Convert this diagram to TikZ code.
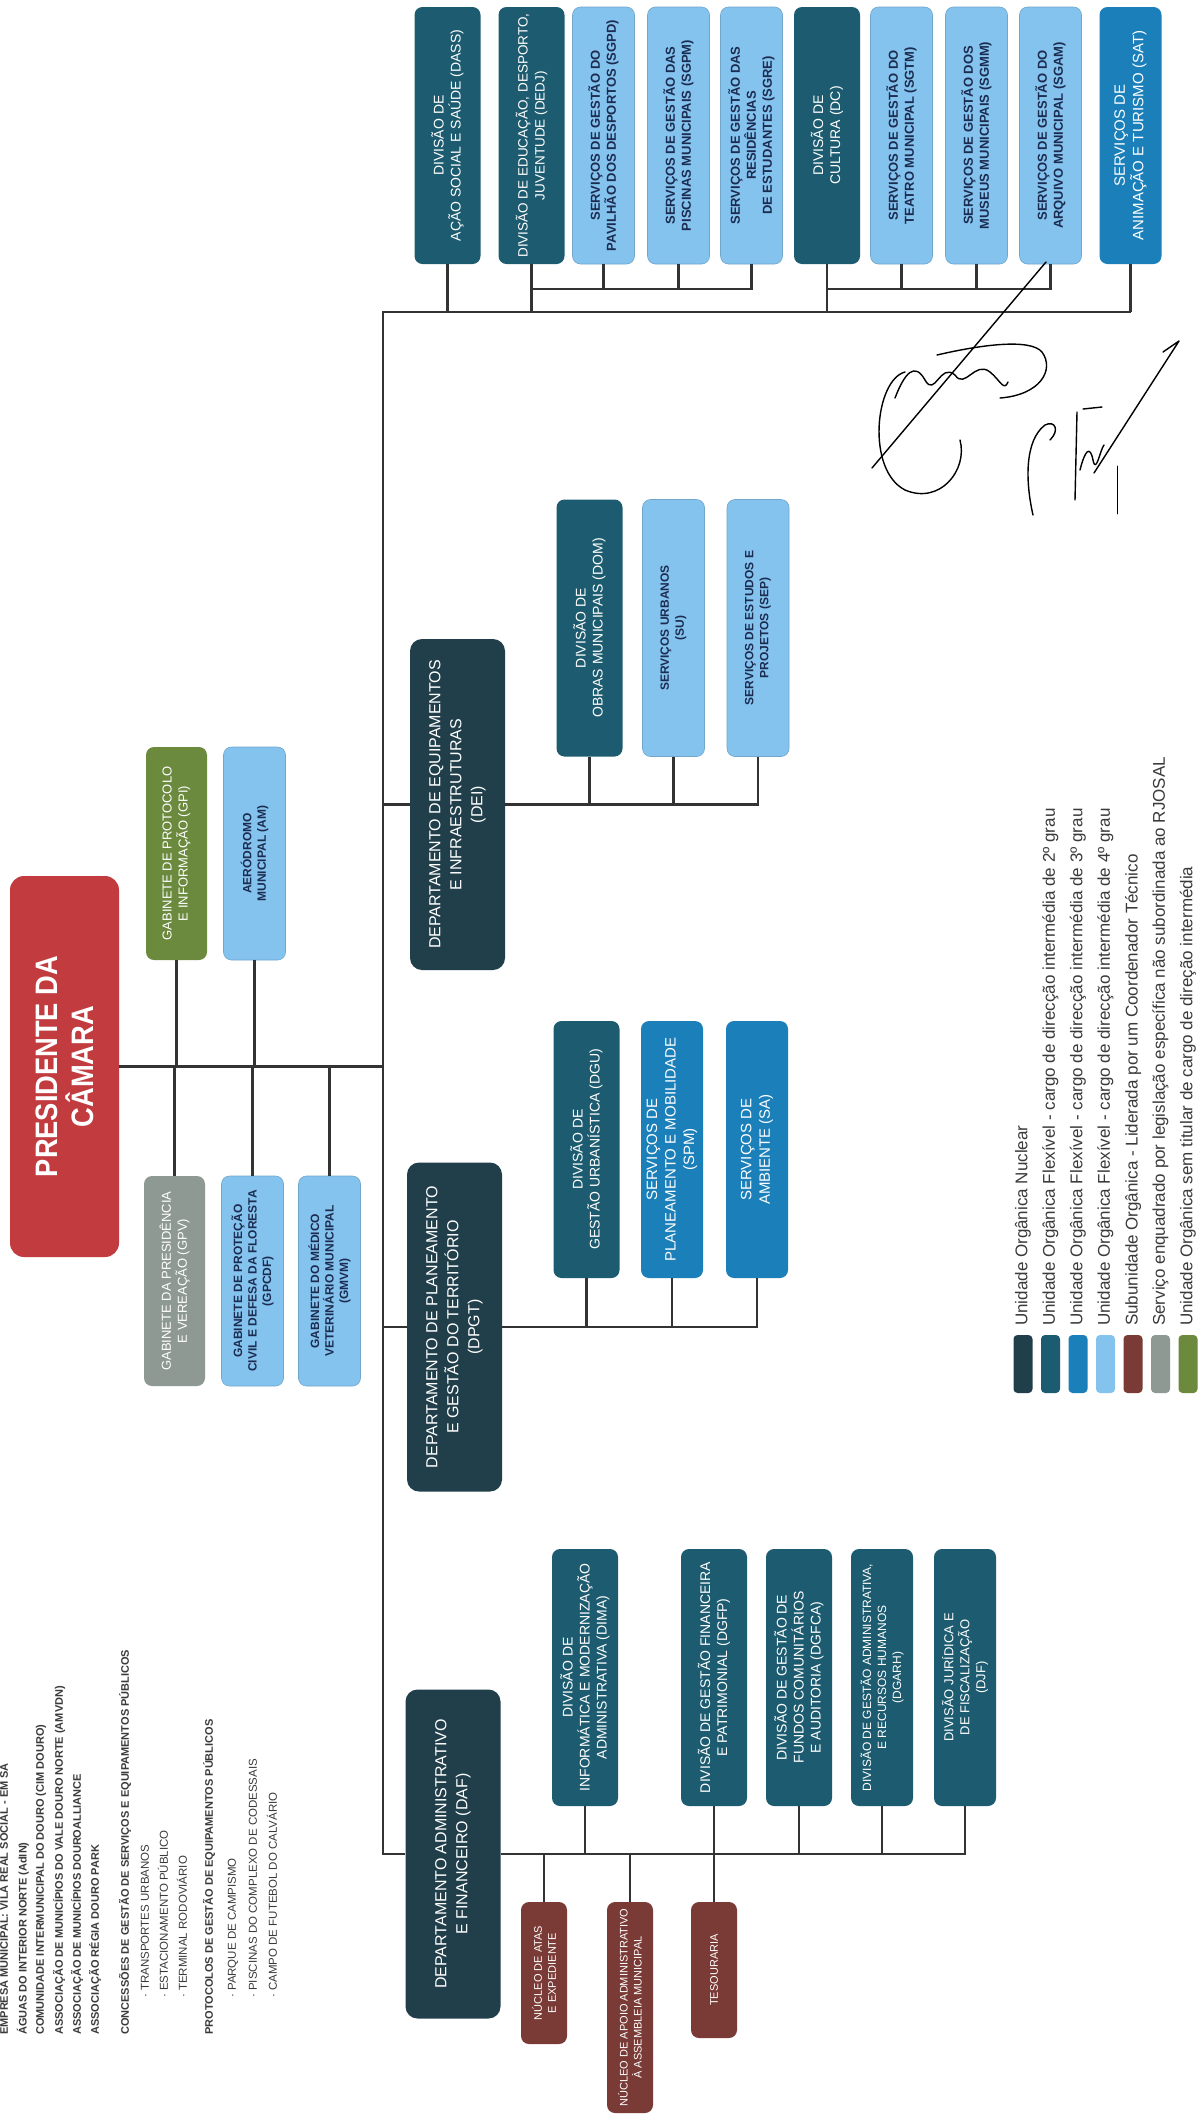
\documentclass[tikz,border=0pt]{standalone}
\usepackage{fontspec}
\setmainfont{Liberation Sans}
\newfontfamily\presfont[FakeStretch=0.88]{Liberation Sans}
\newcommand{\setfs}[2]{\fontsize{#1}{#2}\selectfont}
\definecolor{cnuc}{HTML}{213F4A}
\definecolor{cdiv}{HTML}{1D5C70}
\definecolor{csvt}{HTML}{1B7FBA}
\definecolor{csvq}{HTML}{85C3EF}
\definecolor{csub}{HTML}{7A3A35}
\definecolor{cgry}{HTML}{8E9994}
\definecolor{cgrn}{HTML}{6B8A3E}
\definecolor{cred}{HTML}{C13B3F}
\definecolor{cnavy}{HTML}{1C2C50}
\definecolor{cline}{HTML}{333333}
\definecolor{ctxt}{HTML}{3A3A3A}
\begin{document}
\begin{tikzpicture}[x=1pt,y=-1pt,
  box/.style={rotate=90, rounded corners=8pt, align=center, inner sep=2pt, minimum width=257pt, minimum height=64pt},
  nuc/.style={box, fill=cnuc, text=white, font=\setfs{16}{21}, minimum width=329pt, minimum height=95pt, rounded corners=12pt},
  divb/.style={box, fill=cdiv, text=white, font=\setfs{14}{17}, minimum height=66pt},
  svt/.style={box, fill=csvt, text=white, font=\setfs{15}{18.5}, minimum height=62pt},
  svq/.style={box, fill=csvq, draw=csvq!85!black, line width=0.6pt, text=cnavy, font=\bfseries\setfs{13}{16}, minimum height=62pt},
  svqs/.style={svq, font=\bfseries\setfs{12}{14.5}, minimum width=212pt},
  subu/.style={box, fill=csub, text=white, font=\setfs{11}{14}, minimum height=46pt},
  gryb/.style={box, fill=cgry, text=white, font=\setfs{13}{16}, minimum width=210pt, minimum height=61pt},
  grnb/.style={box, fill=cgrn, text=white, font=\setfs{13}{16}, minimum width=213pt, minimum height=61pt},
  presb/.style={box, fill=cred, text=white, font=\presfont\bfseries\setfs{31}{36}, minimum width=381pt, minimum height=109pt, rounded corners=14pt},
  conn/.style={draw=cline, line width=2.5pt},
  swatch/.style={rounded corners=4pt, minimum width=19pt, minimum height=58pt, inner sep=0pt},
  legtext/.style={rotate=90, anchor=west, text=ctxt, font=\setfs{17}{20}, inner sep=0pt},
  listb/.style={rotate=90, anchor=west, text=ctxt, font=\bfseries\setfs{11}{13}, inner sep=0pt},
  listr/.style={rotate=90, anchor=west, text=ctxt, font=\setfs{11.5}{13}, inner sep=0pt},
  sig/.style={draw=black, line width=1.4pt, line cap=round, line join=round}
]
\fill[white] (0,0) rectangle (1201,2118);
\useasboundingbox (0,0) rectangle (1201,2118);

% President and gabinetes
\node[presb] (pres) at (64.5,1066.5) {PRESIDENTE DA\\CÂMARA};
\node[grnb] (gpi) at (176.5,853.5) {GABINETE DE PROTOCOLO\\E INFORMAÇÃO (GPI)};
\node[svqs, minimum width=213pt] (am) at (254.5,853.5) {AERÓDROMO\\MUNICIPAL (AM)};
\node[gryb] (gpv) at (174.5,1281) {GABINETE DA PRESIDÊNCIA\\E VEREAÇÃO (GPV)};
\node[svqs, minimum width=210pt] (gpcdf) at (252.5,1281) {GABINETE DE PROTEÇÃO\\CIVIL E DEFESA DA FLORESTA\\(GPCDF)};
\node[svqs, minimum width=210pt] (gmvm) at (329.5,1281) {GABINETE DO MÉDICO\\VETERINÁRIO MUNICIPAL\\(GMVM)};

% Top row
\node[divb] (dass) at (447.5,135.5) {DIVISÃO DE\\AÇÃO SOCIAL E SAÚDE (DASS)};
\node[divb, font=\setfs{13.5}{17}] (dedj) at (531.5,135.5) {DIVISÃO DE EDUCAÇÃO, DESPORTO,\\JUVENTUDE (DEDJ)};
\node[svq] (sgpd) at (603.5,135.5) {SERVIÇOS DE GESTÃO DO\\PAVILHÃO DOS DESPORTOS (SGPD)};
\node[svq] (sgpm) at (678.5,135.5) {SERVIÇOS DE GESTÃO DAS\\PISCINAS MUNICIPAIS (SGPM)};
\node[svq] (sgre) at (751.5,135.5) {SERVIÇOS DE GESTÃO DAS\\RESIDÊNCIAS\\DE ESTUDANTES (SGRE)};
\node[divb] (dc) at (827,135.5) {DIVISÃO DE\\CULTURA (DC)};
\node[svq] (sgtm) at (901.5,135.5) {SERVIÇOS DE GESTÃO DO\\TEATRO MUNICIPAL (SGTM)};
\node[svq] (sgmm) at (976.5,135.5) {SERVIÇOS DE GESTÃO DOS\\MUSEUS MUNICIPAIS (SGMM)};
\node[svq] (sgam) at (1050.5,135.5) {SERVIÇOS DE GESTÃO DO\\ARQUIVO MUNICIPAL (SGAM)};
\node[svt] (sat) at (1130.5,135.5) {SERVIÇOS DE\\ANIMAÇÃO E TURISMO (SAT)};

% DEI
\node[nuc, minimum width=331pt] (dei) at (457.5,804.5) {DEPARTAMENTO DE EQUIPAMENTOS\\E INFRAESTRUTURAS\\(DEI)};
\node[divb] (dom) at (589.5,628) {DIVISÃO DE\\OBRAS MUNICIPAIS (DOM)};
\node[svq, font=\bfseries\setfs{12}{15}] (su) at (673.5,628) {SERVIÇOS URBANOS\\(SU)};
\node[svq, font=\bfseries\setfs{12}{15}] (sep) at (758,628) {SERVIÇOS DE ESTUDOS E\\PROJETOS (SEP)};

% DPGT
\node[nuc] (dpgt) at (454.5,1327) {DEPARTAMENTO DE PLANEAMENTO\\E GESTÃO DO TERRITÓRIO\\(DPGT)};
\node[divb] (dgu) at (586.5,1149.5) {DIVISÃO DE\\GESTÃO URBANÍSTICA (DGU)};
\node[svt] (spm) at (672,1149.5) {SERVIÇOS DE\\PLANEAMENTO E MOBILIDADE\\(SPM)};
\node[svt] (sa) at (757,1149.5) {SERVIÇOS DE\\AMBIENTE (SA)};

% DAF
\node[nuc] (daf) at (453,1854) {DEPARTAMENTO ADMINISTRATIVO\\E FINANCEIRO (DAF)};
\node[divb] (dima) at (585,1677.5) {DIVISÃO DE\\INFORMÁTICA E MODERNIZAÇÃO\\ADMINISTRATIVA (DIMA)};
\node[divb] (dgfp) at (714,1677.5) {DIVISÃO DE GESTÃO FINANCEIRA\\E PATRIMONIAL (DGFP)};
\node[divb] (dgfca) at (799,1677.5) {DIVISÃO DE GESTÃO DE\\FUNDOS COMUNITÁRIOS\\E AUDITORIA (DGFCA)};
\node[divb, font=\setfs{12}{15}, minimum height=62pt] (dgarh) at (882,1677.5) {DIVISÃO DE GESTÃO ADMINISTRATIVA,\\E RECURSOS HUMANOS\\(DGARH)};
\node[divb, font=\setfs{13}{16}, minimum height=62pt] (djf) at (965,1677.5) {DIVISÃO JURÍDICA E\\DE FISCALIZAÇÃO\\(DJF)};
\node[subu, minimum width=142pt] (nae) at (544,1973) {NÚCLEO DE ATAS\\E EXPEDIENTE};
\node[subu, minimum width=211pt] (naam) at (630,2007.5) {NÚCLEO DE APOIO ADMINISTRATIVO\\À ASSEMBLEIA MUNICIPAL};
\node[subu, minimum width=136pt] (tes) at (714,1970) {TESOURARIA};

% Bus coordinates
\coordinate (busTop) at (383,312);
\coordinate (subY) at (383,289);

% Connectors
\draw[conn] (sat.west |- busTop) -- (busTop) -- (busTop |- daf.north) -- (daf.north);
\foreach \n in {dass,dedj,dc,sat} \draw[conn] (\n.west) -- (\n.west |- busTop);
\draw[conn] (dedj.west |- subY) -- (sgre.west |- subY) -- (sgre.west);
\foreach \n in {sgpd,sgpm} \draw[conn] (\n.west) -- (\n.west |- subY);
\draw[conn] (dc.west |- subY) -- (sgam.west |- subY) -- (sgam.west);
\foreach \n in {sgtm,sgmm} \draw[conn] (\n.west) -- (\n.west |- subY);

\draw[conn] (pres.south) -- (busTop |- pres.south);
\foreach \n in {gpi,am} \draw[conn] (\n.west) -- (\n.west |- pres.south);
\foreach \n in {gpv,gpcdf,gmvm} \draw[conn] (\n.east) -- (\n.east |- pres.south);

\draw[conn] (busTop |- dei.north) -- (dei.north);
\draw[conn] (dei.south) -- (sep.west |- dei.south) -- (sep.west);
\foreach \n in {dom,su} \draw[conn] (\n.west) -- (\n.west |- dei.south);

\draw[conn] (busTop |- dpgt.north) -- (dpgt.north);
\draw[conn] (dpgt.south) -- (sa.west |- dpgt.south) -- (sa.west);
\foreach \n in {dgu,spm} \draw[conn] (\n.west) -- (\n.west |- dpgt.south);

\draw[conn] (daf.south) -- (djf.west |- daf.south) -- (djf.west);
\foreach \n in {dima,dgfp,dgfca,dgarh} \draw[conn] (\n.west) -- (\n.west |- daf.south);
\foreach \n in {nae,naam,tes} \draw[conn] (\n.east) -- (\n.east |- daf.south);

% Legend
\node[swatch, fill=cnuc] (sw1) at (1023,1364) {};
\node[swatch, fill=cdiv] (sw2) at (1050.5,1364) {};
\node[swatch, fill=csvt] (sw3) at (1078,1364) {};
\node[swatch, fill=csvq] (sw4) at (1105.5,1364) {};
\node[swatch, fill=csub] (sw5) at (1133,1364) {};
\node[swatch, fill=cgry] (sw6) at (1160.5,1364) {};
\node[swatch, fill=cgrn] (sw7) at (1188,1364) {};
\node[legtext] (lg1) at (1023,1326) {Unidade Orgânica Nuclear};
\node[legtext] (lg2) at (1050.5,1326) {Unidade Orgânica Flexível - cargo de direcção intermédia de 2º grau};
\node[legtext] (lg3) at (1078,1326) {Unidade Orgânica Flexível - cargo de direcção intermédia de 3º grau};
\node[legtext] (lg4) at (1105.5,1326) {Unidade Orgânica Flexível - cargo de direcção intermédia de 4º grau};
\node[legtext] (lg5) at (1133,1326) {Subunidade Orgânica - Liderada por um Coordenador Técnico};
\node[legtext] (lg6) at (1160.5,1326) {Serviço enquadrado por legislação específica não subordinada ao RJOSAL};
\node[legtext] (lg7) at (1188,1326) {Unidade Orgânica sem titular de cargo de direção intermédia};

% Text list
\node[listb] (t1) at (4,2035) {EMPRESA MUNICIPAL: VILA REAL SOCIAL - EM SA};
\node[listb] (t2) at (23,2035) {ÁGUAS DO INTERIOR NORTE (AdIN)};
\node[listb] (t3) at (41,2035) {COMUNIDADE INTERMUNICIPAL DO DOURO (CIM DOURO)};
\node[listb] (t4) at (59,2035) {ASSOCIAÇÃO DE MUNICÍPIOS DO VALE DOURO NORTE (AMVDN)};
\node[listb] (t5) at (77,2035) {ASSOCIAÇÃO DE MUNICÍPIOS DOUROALLIANCE};
\node[listb] (t6) at (95,2035) {ASSOCIAÇÃO RÉGIA DOURO PARK};
\node[listb] (t7) at (125,2035) {CONCESSÕES DE GESTÃO DE SERVIÇOS E EQUIPAMENTOS PÚBLICOS};
\node[listr] (t8) at (145,1998) {· TRANSPORTES URBANOS};
\node[listr] (t9) at (163,1998) {· ESTACIONAMENTO PÚBLICO};
\node[listr] (t10) at (182,1998) {· TERMINAL RODOVIÁRIO};
\node[listb] (t11) at (209,2035) {PROTOCOLOS DE GESTÃO DE EQUIPAMENTOS PÚBLICOS};
\node[listr] (t12) at (233,1998) {· PARQUE DE CAMPISMO};
\node[listr] (t13) at (253,1998) {· PISCINAS DO COMPLEXO DE CODESSAIS};
\node[listr] (t14) at (272,1998) {· CAMPO DE FUTEBOL DO CALVÁRIO};

% Signatures
\draw[sig] (1046,262) -- (872,468);
\draw[sig] (905,372) .. controls (875,380) and (866,470) .. (905,490) .. controls (940,505) and (968,470) .. (960,440);
\draw[sig] (895,398) .. controls (905,372) and (915,362) .. (925,380) .. controls (935,398) and (940,362) .. (955,375) .. controls (965,390) and (975,360) .. (990,372) .. controls (1000,380) and (1004,392) .. (1008,382);
\draw[sig] (937,355) .. controls (980,345) and (1030,338) .. (1042,352) .. controls (1055,370) and (1040,395) .. (1000,398);
\draw[sig] (1033,515) .. controls (1025,480) and (1025,440) .. (1045,425) .. controls (1055,420) and (1060,430) .. (1050,440);
\draw[sig] (1077,412) -- (1075,500);
\draw[sig] (1083,409) -- (1102,407);
\draw[sig] (1080,470) .. controls (1085,450) and (1090,445) .. (1093,460) .. controls (1096,475) and (1100,450) .. (1104,445);
\draw[sig] (1094,473) -- (1179,341) -- (1163,352);
\draw[sig, line width=0.8pt] (1117,466) -- (1117,514);
\end{tikzpicture}
\end{document}
